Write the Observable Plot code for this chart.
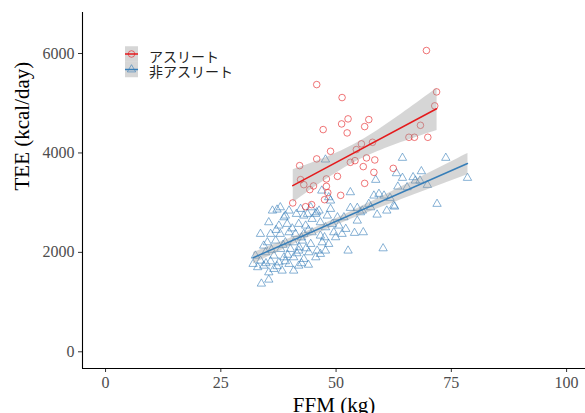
<!DOCTYPE html>
<html><head><meta charset="utf-8">
<script src="https://cdn.jsdelivr.net/npm/d3@7"></script>
<script src="https://cdn.jsdelivr.net/npm/@observablehq/plot@0.6"></script>
<style>
body{margin:0;background:#fff;}
#wrap{position:relative;width:585px;height:413px;overflow:hidden;background:#fff;}
#legend{position:absolute;left:120px;top:44px;}
</style></head><body><div id="wrap"></div>
<script>
const athleteFFM = [45.8,51.3,52.6,51.2,57.1,56.2,47.2,52.4,
  69.6,71.8,71.4,68.3,65.8,67.0,69.9,
  57.9,55.5,54.4,48.8,45.8,42.1,
  53.1,54.1,56.6,58.4,55.9,58.2,62.4,
  50.3,47.9,42.3,43.0,45.1,47.9,56.2,
  44.3,48.2,51.0,47.5,40.6,43.4,44.7];
const athleteTEE = [5375,5114,4685,4584,4671,4530,4470,4403,
  6060,5228,4947,4556,4315,4315,4315,
  4214,4182,4067,4033,3880,3745,
  3811,3845,3900,3859,3725,3610,3690,
  3529,3477,3463,3362,3336,3328,3388,
  3262,3201,3147,3060,2994,2919,2960];

const nonAthleteFFM = [64.4,73.8,78.5,68.5,63.1,64.4,66.7,67.2,68.2,69.8,
  63.4,65.4,58.6,71.9,58.2,59.3,60.4,61.7,62.5,57.1,
  61.0,58.9,55.7,62.7,47.7,46.9,53.1,48.4,48.8,48.8,
  45.8,53.1,54.6,54.6,51.7,50.3,48.1,49.2,50.6,52.1,
  54.0,55.9,51.3,49.5,49.9,47.5,47.0,48.4,47.7,52.6,
  60.2,46.6,55.3,57.5,37.2,39.0,41.4,43.0,36.2,37.9,
  39.8,42.3,44.5,46.3,38.7,35.4,37.6,39.4,41.9,43.8,
  45.6,44.8,46.6,47.7,43.4,33.6,35.8,37.9,39.8,41.2,
  43.0,44.8,46.6,35.1,36.9,39.0,40.8,42.7,44.5,34.3,
  38.0,40.1,41.9,44.1,45.9,34.7,32.5,36.5,38.7,40.8,
  43.0,45.6,33.6,35.8,37.6,39.8,41.9,32.0,34.3,36.5,
  38.3,40.8,35.4,33.8,35.4,37.0,40.5,42.5,44.0,36.0,
  38.5,42.0,43.5,39.5,41.5,37.2,39.0,42.5,44.0,33.0,
  34.8];
const nonAthleteTEE = [3900,3900,3497,3630,3590,3497,3510,3443,3443,3356,
  3322,3308,3457,2974,3141,3175,3141,3094,2939,2974,
  2839,2758,2839,2919,3866,3241,3208,3107,3040,2873,
  2805,2893,2893,2637,2704,2704,2738,2571,2537,2470,
  2390,2403,2370,2403,2302,2302,2201,2168,2034,2034,
  2080,1967,2805,2905,2859,2738,2772,2738,2839,2905,
  2839,2873,2905,2839,2704,2604,2537,2571,2571,2772,
  2772,2671,2604,2503,2537,2370,2370,2370,2403,2370,
  2370,2403,2335,2201,2235,2201,2201,2235,2168,2134,
  2067,2067,2034,2000,2034,2000,1933,1933,1899,1899,
  1866,1899,1832,1818,1798,1766,1731,1766,1731,1665,
  1631,1631,1597,1370,1450,2450,2480,2300,2450,2050,
  2150,2100,2080,1950,1980,1720,1820,1780,1750,1700,
  1780];

const xTicks = [0, 25, 50, 75, 100];
const yTicks = [0, 2000, 4000, 6000];
const groupLabels = ["アスリート", "非アスリート"];
const groupColors = ["#E41A1C", "#377EB8"];
const xTitle = "FFM (kg)";
const yTitle = "TEE (kcal/day)";

const athletes = athleteFFM.map((x, i) => ({x, y: athleteTEE[i]}));
const nonAthletes = nonAthleteFFM.map((x, i) => ({x, y: nonAthleteTEE[i]}));

const plot = Plot.plot({
  width: 585, height: 413,
  marginLeft: 82, marginRight: 0, marginTop: 12, marginBottom: 45,
  x: {domain: [-5, 104.1]},
  y: {domain: [-336, 6825]},
  style: {fontFamily: "Liberation Serif", background: "#fff", overflow: "hidden"},
  marks: [
    Plot.dot(nonAthletes, {x: "x", y: "y", symbol: "triangle", r: 3.1, fill: "none",
      stroke: groupColors[1], strokeOpacity: 0.75, strokeWidth: 0.8}),
    Plot.dot(athletes, {x: "x", y: "y", symbol: "circle", r: 3.3, fill: "none",
      stroke: groupColors[0], strokeOpacity: 0.75, strokeWidth: 0.8}),
    Plot.linearRegressionY(athletes, {x: "x", y: "y", stroke: groupColors[0], strokeWidth: 1.5,
      fill: "#999999", fillOpacity: 0.4, ci: 0.95}),
    Plot.linearRegressionY(nonAthletes, {x: "x", y: "y", stroke: groupColors[1], strokeWidth: 1.5,
      fill: "#999999", fillOpacity: 0.4, ci: 0.95}),
    Plot.axisX({ticks: xTicks, tickSize: 4, tickPadding: 4, fontSize: 16, fill: "#4d4d4d",
      stroke: "#333", label: null, tickFormat: d => String(d)}),
    Plot.axisY({ticks: yTicks, tickSize: 4, tickPadding: 4, fontSize: 16, fill: "#4d4d4d",
      stroke: "#333", label: null, tickFormat: d => String(d)}),
    Plot.ruleX([-5], {stroke: "#000", strokeWidth: 1.1}),
    Plot.ruleY([-336], {stroke: "#000", strokeWidth: 1.1}),
    Plot.text([yTitle], {text: d => d, frameAnchor: "left", dx: -60, rotate: -90,
      fontSize: 21, fill: "#000"}),
    Plot.text([xTitle], {text: d => d, frameAnchor: "bottom", dy: 37, lineAnchor: "middle",
      fontSize: 21, fill: "#000"})
  ]
});
const wrap = document.getElementById("wrap");
wrap.appendChild(plot);

// legend
const lg = d3.select(wrap).append("svg").attr("id", "legend")
  .attr("width", 140).attr("height", 42);
groupLabels.forEach((lab, i) => {
  const cy = 10 + i * 15.5;
  lg.append("rect").attr("x", 5).attr("y", cy - 7.75).attr("width", 13).attr("height", 15.5)
    .attr("fill", "#999").attr("fill-opacity", 0.4);
  lg.append("line").attr("x1", 5).attr("x2", 18).attr("y1", cy).attr("y2", cy)
    .attr("stroke", groupColors[i]).attr("stroke-width", 1.5);
  const sym = i === 0 ? d3.symbolCircle : d3.symbolTriangle;
  const size = i === 0 ? Math.PI * 3.3 * 3.3 : Math.PI * 3.1 * 3.1;
  lg.append("path").attr("d", d3.symbol(sym, size)()).attr("transform", `translate(11.5,${cy})`)
    .attr("fill", "none").attr("stroke", groupColors[i]).attr("stroke-opacity", 0.75).attr("stroke-width", 0.8);
  lg.append("text").attr("x", 29).attr("y", cy + 1.5).attr("dominant-baseline", "central")
    .attr("font-family", "Noto Sans CJK JP").attr("font-size", 14).attr("fill", "#222").text(lab);
});
</script></body></html>
